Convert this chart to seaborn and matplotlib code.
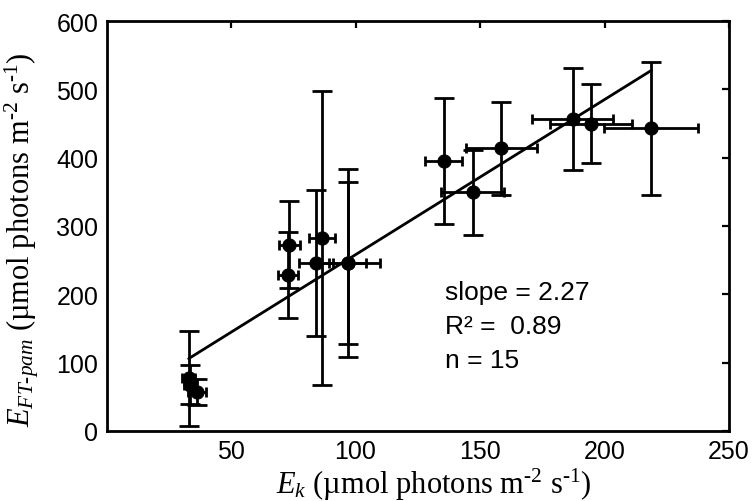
import matplotlib
matplotlib.use("Agg")
import matplotlib.pyplot as plt
import numpy as np
import pandas as pd
import seaborn as sns

# ---- data ----
ek = [33.0, 33.5, 36.4, 73.4, 73.0, 86.6, 84.1, 96.8, 96.8, 135.4, 147.0, 158.6, 187.3, 194.7, 218.8]
ek_err = [2.5, 2.5, 3.5, 4.2, 4.0, 5.2, 6.8, 13.2, 7.5, 7.5, 12.6, 14.2, 16.3, 16.5, 18.9]
eft = [77, 68, 57, 272.6, 228.8, 283, 246, 246, 246, 395.6, 349.3, 414, 456.6, 450, 443]
eft_err = [70, 28, 18.5, 64, 63, 215, 107, 138, 119, 92, 62.5, 68, 74, 58.5, 97.6]
fit_slope = 2.27
fit_intercept = 31.0
stats_lines = ["slope = 2.27", "R\u00b2 =  0.89", "n = 15"]
xticks = [50, 100, 150, 200, 250]
yticks = [0, 100, 200, 300, 400, 500, 600]

df = pd.DataFrame({"ek": ek, "ek_err": ek_err, "eft": eft, "eft_err": eft_err})

sns.set_theme(style="white")
plt.rcParams["font.family"] = ["Liberation Sans", "DejaVu Sans"]
plt.rcParams["mathtext.fontset"] = "custom"
plt.rcParams["mathtext.rm"] = "Liberation Serif"
plt.rcParams["mathtext.it"] = "Liberation Serif:italic"
plt.rcParams["mathtext.bf"] = "Liberation Serif:bold"
plt.rcParams["text.color"] = "black"
plt.rcParams["axes.labelcolor"] = "black"
plt.rcParams["xtick.color"] = "black"
plt.rcParams["ytick.color"] = "black"

fig = plt.figure(figsize=(7.52, 5.02), dpi=100)
ax = fig.add_axes([106.5 / 752, 1 - 432 / 502, (729 - 106.5) / 752, (432 - 22) / 502])

# regression line
fx = np.array([min(ek), max(ek)])
sns.lineplot(x=fx, y=fit_slope * fx + fit_intercept, ax=ax, color="black", lw=2.0, zorder=2)

# error bars: vertical (wide caps) and horizontal (short caps)
ax.errorbar(df["ek"], df["eft"], yerr=df["eft_err"], fmt="none", ecolor="black",
            elinewidth=2.0, capsize=7.5, capthick=2.0, zorder=3)
ax.errorbar(df["ek"], df["eft"], xerr=df["ek_err"], fmt="none", ecolor="black",
            elinewidth=2.0, capsize=3.8, capthick=2.0, zorder=3)

sns.scatterplot(data=df, x="ek", y="eft", ax=ax, color="black", edgecolor="black",
                s=90, marker="o", zorder=4, legend=False)

ax.set_xlim(0, 250)
ax.set_ylim(0, 600)
ax.set_xticks(xticks)
ax.set_yticks(yticks)
ax.tick_params(direction="in", length=5, width=1.6, top=True, right=True,
               labelsize=18, pad=6, colors="black")
for s in ax.spines.values():
    s.set_linewidth(2.0)
    s.set_color("black")

label_font = dict(family="Liberation Serif", size=22, color="black")
ax.set_xlabel(r"$E_k$ (µmol photons m$^{\text{-}2}$ s$^{\text{-}1}$)", fontdict=label_font)
ax.set_ylabel(r"$E_{FT\text{-}pam}$ (µmol photons m$^{\text{-}2}$ s$^{\text{-}1}$)", fontdict=label_font)
ax.xaxis.set_label_coords(0.525, -0.085)
ax.yaxis.set_label_coords(-0.106, 0.47)

ys = [0.339, 0.256, 0.173]
for t, yy in zip(stats_lines, ys):
    ax.text(0.544, yy, t, transform=ax.transAxes, fontsize=19, va="center", ha="left", color="black")

ax.grid(False)
fig.savefig("out.png", dpi=100)
